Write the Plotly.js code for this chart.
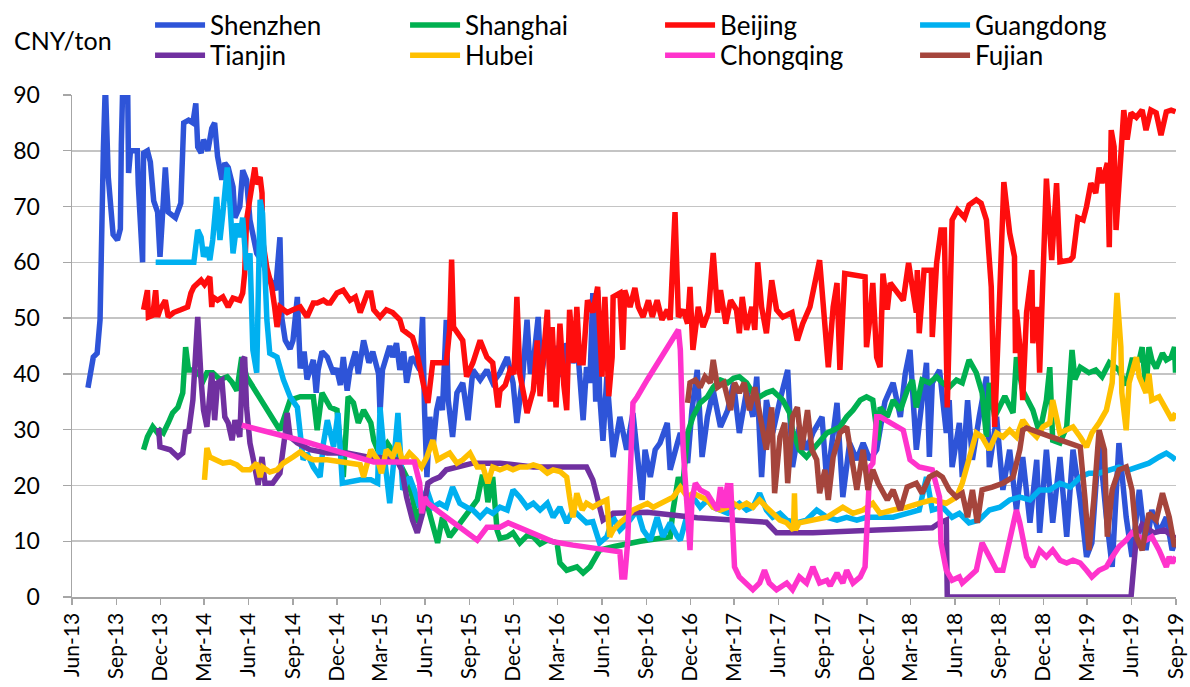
<!DOCTYPE html>
<html><head><meta charset="utf-8">
<script src="https://cdn.plot.ly/plotly-3.0.1.min.js"></script>
<style>html,body{margin:0;padding:0;background:#fff}#chart{width:1190px;height:687px}</style>
</head><body><div id="chart"></div>
<script>
const seriesNames = ['Shenzhen','Shanghai','Beijing','Guangdong','Tianjin','Hubei','Chongqing','Fujian'];
const seriesColors = ['#2e54d8','#00b050','#ff0d0d','#00b0f0','#7030a0','#ffc000','#ff33cc','#a5453c'];
const yTickValues = [0,10,20,30,40,50,60,70,80,90];
const unitLabel = 'CNY/ton';

const shenzhenDates = ['2013-07-04','2013-07-15','2013-07-23','2013-07-29','2013-08-05','2013-08-09','2013-08-15','2013-08-19','2013-08-25','2013-09-03','2013-09-09','2013-09-11','2013-09-14','2013-09-24','2013-09-26','2013-09-30','2013-10-14','2013-10-16','2013-10-25','2013-10-27','2013-11-04','2013-11-10','2013-11-17','2013-11-25','2013-11-30','2013-12-11','2013-12-17','2014-01-01','2014-01-12','2014-01-18','2014-01-28','2014-02-06','2014-02-12','2014-02-16','2014-02-23','2014-02-28','2014-03-09','2014-03-17','2014-03-23','2014-03-29','2014-04-07','2014-04-13','2014-04-20','2014-04-30','2014-05-04','2014-05-14','2014-05-20','2014-05-28','2014-06-04','2014-06-18','2014-06-30','2014-07-09','2014-07-21','2014-07-27','2014-08-05','2014-08-09','2014-08-16','2014-08-26','2014-09-01','2014-09-10','2014-09-16','2014-09-24','2014-09-30','2014-10-13','2014-10-19','2014-10-23','2014-10-31','2014-11-11','2014-11-24','2014-11-30','2014-12-08','2014-12-14','2014-12-22','2014-12-28','2015-01-08','2015-01-14','2015-01-25','2015-02-05','2015-02-13','2015-02-25','2015-02-28','2015-03-05','2015-03-20','2015-03-26','2015-04-03','2015-04-10','2015-04-18','2015-04-24','2015-05-04','2015-05-10','2015-05-21','2015-05-27','2015-05-31','2015-06-05','2015-06-11','2015-06-17','2015-06-25','2015-07-01','2015-07-07','2015-07-15','2015-07-19','2015-07-28','2015-08-06','2015-08-18','2015-08-29','2015-09-08','2015-09-23','2015-10-07','2015-10-19','2015-11-03','2015-11-18','2015-11-30','2015-12-08','2015-12-20','2015-12-29','2016-01-05','2016-01-11','2016-01-21','2016-01-27','2016-02-11','2016-02-21','2016-03-01','2016-03-12','2016-03-20','2016-04-02','2016-04-12','2016-04-23','2016-04-30','2016-05-07','2016-05-13','2016-05-19','2016-05-23','2016-05-27','2016-06-03','2016-06-11','2016-06-24','2016-07-08','2016-07-22','2016-08-04','2016-08-15','2016-08-23','2016-08-29','2016-09-09','2016-09-19','2016-09-29','2016-10-14','2016-10-20','2016-11-04','2016-11-10','2016-11-25','2016-12-04','2016-12-15','2016-12-25','2017-01-05','2017-01-17','2017-02-01','2017-02-16','2017-02-28','2017-03-12','2017-03-27','2017-04-09','2017-04-17','2017-04-27','2017-05-07','2017-05-20','2017-06-04','2017-06-20','2017-06-30','2017-07-14','2017-07-29','2017-08-11','2017-08-30','2017-09-09','2017-09-30','2017-10-12','2017-10-26','2017-11-10','2017-11-23','2017-12-07','2017-12-21','2018-01-07','2018-01-24','2018-02-08','2018-02-18','2018-02-28','2018-03-13','2018-03-25','2018-04-03','2018-04-09','2018-04-15','2018-04-30','2018-05-14','2018-05-20','2018-05-26','2018-06-10','2018-06-16','2018-06-27','2018-07-07','2018-07-21','2018-08-05','2018-08-11','2018-08-26','2018-09-08','2018-09-22','2018-10-06','2018-10-19','2018-11-03','2018-11-17','2018-11-23','2018-12-07','2018-12-20','2019-01-04','2019-01-18','2019-01-31','2019-02-15','2019-02-28','2019-03-11','2019-03-26','2019-04-10','2019-04-22','2019-05-06','2019-05-21','2019-06-02','2019-06-17','2019-07-01','2019-07-13','2019-07-28','2019-08-12','2019-08-24','2019-08-31'];
const shenzhenValues = [37.5,43,43.7,49.7,80.7,92,75.3,70,65,64,66,81,92,92,76,80,80,74,60,79.6,80,78,71,69,61,77,69,68,70.6,85,85.5,85,88.5,80.7,79.6,82,80,84,85,79,74.8,77.8,77,73.5,68,70,76.5,74.8,67.6,61.6,60,58,55.6,55,64.5,50,46,44.5,46,53.8,41,44,39,42.5,36.6,40.7,44,43,40,41,38,43,37,40.7,44,40,46,42,44,40,33,40.7,45,43,45.5,40.7,44,38.4,43,42.5,40.7,50.2,33.5,21.5,32.3,26.4,33.5,35.9,33.5,49.7,35.3,28.7,36.6,38.4,31.7,40.7,38.9,40.7,38.4,40.2,43,38.4,31.2,39.5,49.7,40,42,50.2,39.5,47.3,41.2,45,39.5,45.5,42,44,31.7,41.2,38.4,54.5,35,55,36.6,28,39.5,25.1,32.3,26.4,33,24.6,17.4,26.4,21.5,26.4,27.6,31.2,22.8,27.6,29.4,24,33.5,40.7,25.1,32.3,37,30.5,33.5,38.4,29.4,37,32.3,39.5,21.5,35.3,29.4,35.3,40.7,23.3,30.5,26.4,29.4,32.3,20.4,34.8,17.9,27.6,24.6,27.6,24.6,26.4,35,38.4,32.3,40,44.3,26.4,35.3,42,25.1,38.4,40.7,29.4,35.3,23.3,31.2,21.5,35.3,24.6,32.3,39.5,23.3,32.3,19.2,26.4,15.6,25.1,13.3,24.6,11.5,26.4,13.3,25.1,10.8,26.4,17.4,7.2,9.7,28.1,14.3,5.4,27.6,14.3,7.2,19.2,8.4,15.6,11.5,14.3,8.4,10];

const shanghaiDates = ['2013-10-27','2013-11-04','2013-11-15','2013-11-25','2013-11-30','2013-12-07','2013-12-17','2013-12-26','2014-01-06','2014-01-16','2014-01-22','2014-01-28','2014-02-08','2014-02-16','2014-02-28','2014-03-07','2014-03-19','2014-04-03','2014-04-18','2014-04-28','2014-05-08','2014-05-18','2014-05-28','2014-08-05','2014-08-26','2014-09-16','2014-10-13','2014-10-21','2014-10-31','2014-11-17','2014-12-01','2014-12-14','2014-12-24','2015-01-04','2015-01-14','2015-01-25','2015-02-09','2015-02-15','2015-02-23','2015-03-05','2015-03-15','2015-04-03','2015-04-24','2015-05-06','2015-05-16','2015-05-27','2015-06-07','2015-06-17','2015-06-27','2015-07-07','2015-07-22','2015-08-06','2015-08-18','2015-09-02','2015-09-17','2015-09-27','2015-10-03','2015-10-09','2015-10-19','2015-10-28','2015-11-03','2015-11-18','2015-11-30','2015-12-14','2015-12-29','2016-01-11','2016-01-25','2016-02-09','2016-02-29','2016-03-06','2016-03-20','2016-04-10','2016-04-23','2016-05-07','2016-05-21','2016-05-27','2016-06-24','2016-08-19','2016-10-20','2016-10-26','2016-11-06','2016-11-14','2016-11-25','2016-12-06','2016-12-21','2017-01-05','2017-01-17','2017-02-01','2017-02-16','2017-02-28','2017-03-12','2017-03-27','2017-04-09','2017-04-23','2017-05-07','2017-05-20','2017-06-10','2017-06-24','2017-06-30','2017-07-14','2017-07-29','2017-08-11','2017-08-25','2017-09-09','2017-09-22','2017-10-06','2017-10-20','2017-11-02','2017-11-17','2017-11-30','2017-12-13','2017-12-24','2017-12-28','2018-01-12','2018-01-24','2018-02-08','2018-02-22','2018-03-05','2018-03-13','2018-03-25','2018-04-09','2018-04-24','2018-05-06','2018-05-20','2018-06-04','2018-06-16','2018-06-30','2018-07-15','2018-07-27','2018-08-05','2018-08-11','2018-08-22','2018-09-12','2018-09-29','2018-10-06','2018-10-19','2018-11-09','2018-11-23','2018-12-07','2018-12-14','2018-12-20','2019-01-04','2019-01-18','2019-01-29','2019-02-04','2019-02-15','2019-03-05','2019-03-19','2019-04-01','2019-04-16','2019-05-06','2019-05-21','2019-06-02','2019-06-17','2019-06-23','2019-07-01','2019-07-07','2019-07-13','2019-07-22','2019-08-04','2019-08-12','2019-08-22','2019-08-29','2019-08-31'];
const shanghaiValues = [26.4,28.7,30.5,29.4,29.9,29.4,31.2,33,34,36.6,44.8,40.7,40.7,40.2,38.9,40.2,40.2,39,39.5,38.5,37,43,39.5,29.9,35.3,35.9,35.9,29.9,36.6,34,33.5,21.5,35.9,34.8,31.2,33.5,31.2,28.1,26.4,26.4,27.6,25.1,21.5,17.9,13.3,17.4,16.1,12.5,9.7,14.3,10.8,12.5,13.8,15.6,17.4,21.5,21.5,17,21.5,12,10.5,10.8,11.5,9.7,11,10.8,9.5,10.2,9.7,6.1,4.8,5.4,4.3,5.4,7.2,8.4,9,10,10.8,15.6,21.5,19,29.4,32.3,34.8,35.9,37.6,38.9,38.4,39.2,39.5,38.4,36.6,35.9,36.6,37,35.3,33,29.9,26.4,25.1,26.4,27.6,29.4,29.9,30.5,32.3,33.5,35.3,35.9,35.3,28.1,34,32.3,35.3,33.5,37,38.9,34,38.9,38.4,39.5,38.4,37.6,38.9,38.4,42.5,40.2,36.6,28.7,38.4,32.3,36,33,43,37,33.5,29.4,35.3,41.2,28.1,27.6,30.5,44.3,39,41.2,40.2,40.7,39.5,42,40.7,38,42.5,42.5,44.8,37,44.8,42.5,41,43.7,42.5,43,44.8,40.2];

const beijingDates = ['2013-10-27','2013-11-04','2013-11-06','2013-11-15','2013-11-21','2013-11-25','2013-11-30','2013-12-11','2013-12-17','2013-12-28','2014-01-12','2014-01-26','2014-02-02','2014-02-08','2014-02-23','2014-03-02','2014-03-13','2014-03-17','2014-03-19','2014-03-29','2014-04-09','2014-04-20','2014-04-30','2014-05-14','2014-05-20','2014-05-24','2014-05-28','2014-06-04','2014-06-08','2014-06-14','2014-06-18','2014-06-25','2014-06-29','2014-06-30','2014-07-09','2014-07-19','2014-07-25','2014-07-30','2014-08-05','2014-08-20','2014-09-01','2014-09-16','2014-09-30','2014-10-13','2014-10-21','2014-11-03','2014-11-11','2014-11-17','2014-12-01','2014-12-14','2014-12-28','2015-01-08','2015-01-18','2015-02-02','2015-02-09','2015-02-15','2015-02-28','2015-03-13','2015-03-26','2015-04-10','2015-04-16','2015-04-26','2015-05-06','2015-05-14','2015-05-21','2015-05-29','2015-06-07','2015-06-17','2015-07-01','2015-07-15','2015-07-22','2015-07-26','2015-07-30','2015-08-12','2015-08-18','2015-08-26','2015-09-08','2015-09-23','2015-10-07','2015-10-19','2015-10-30','2015-11-03','2015-11-14','2015-11-24','2015-12-02','2015-12-08','2015-12-14','2015-12-23','2015-12-29','2016-01-11','2016-01-19','2016-01-25','2016-02-09','2016-02-15','2016-02-19','2016-02-27','2016-03-06','2016-03-14','2016-03-20','2016-03-26','2016-04-04','2016-04-10','2016-04-16','2016-04-23','2016-05-02','2016-05-13','2016-05-23','2016-06-01','2016-06-07','2016-06-15','2016-06-22','2016-06-24','2016-07-08','2016-07-14','2016-07-18','2016-07-29','2016-08-08','2016-08-15','2016-08-25','2016-09-05','2016-09-13','2016-09-23','2016-10-03','2016-10-14','2016-10-20','2016-10-30','2016-11-06','2016-11-16','2016-11-25','2016-11-30','2016-12-06','2016-12-17','2016-12-27','2017-01-07','2017-01-17','2017-01-26','2017-02-01','2017-02-12','2017-02-22','2017-03-06','2017-03-12','2017-03-18','2017-03-27','2017-04-07','2017-04-13','2017-04-19','2017-04-27','2017-05-07','2017-05-18','2017-05-28','2017-06-10','2017-06-29','2017-07-10','2017-07-21','2017-08-05','2017-08-25','2017-09-12','2017-09-22','2017-09-30','2017-10-06','2017-10-16','2017-11-27','2017-11-30','2017-12-07','2017-12-13','2017-12-21','2017-12-28','2018-01-03','2018-01-12','2018-01-18','2018-02-14','2018-02-25','2018-03-05','2018-03-13','2018-03-15','2018-03-19','2018-03-29','2018-04-13','2018-04-15','2018-04-24','2018-05-03','2018-05-10','2018-05-16','2018-05-26','2018-06-06','2018-06-21','2018-06-30','2018-07-15','2018-07-25','2018-08-05','2018-08-15','2018-08-22','2018-09-02','2018-09-10','2018-09-22','2018-10-02','2018-10-04','2018-10-06','2018-10-13','2018-10-19','2018-10-27','2018-11-07','2018-11-09','2018-11-19','2018-11-23','2018-11-30','2018-12-07','2018-12-18','2018-12-28','2019-01-04','2019-01-25','2019-01-31','2019-02-10','2019-02-21','2019-02-28','2019-03-09','2019-03-19','2019-03-26','2019-04-01','2019-04-12','2019-04-16','2019-04-20','2019-04-26','2019-04-30','2019-05-10','2019-05-16','2019-05-23','2019-05-31','2019-06-11','2019-06-23','2019-07-01','2019-07-11','2019-07-22','2019-08-01','2019-08-12','2019-08-22','2019-08-31'];
const beijingValues = [51.5,55,50.2,50.5,55,50.2,51.5,53.2,50.2,51,51.5,52,54.5,55.6,56.8,56,57.4,52,53.8,53.2,53.8,52,53.6,53.2,54.5,58,67.6,72,74.8,77,74,75.3,72.4,64,59,55.6,52,48.4,52,51,51.5,52,50.2,52.7,52.7,53.2,52.7,52.7,54.5,55,53.2,53.8,51,54.5,54.5,51.5,50.2,51.5,51,49.7,47.9,47.3,46.6,44.3,40.7,38,34.8,42,42,42,48,60.5,48.4,46.6,46,39.5,42,46,43,42,34,37,38,40.7,40,53.8,40,36,33,37,46,36,51.5,35,48.4,34,49,38,33.5,51.5,42,52,42,42,53.2,51,55.6,39.5,53.8,36,43,53.8,54.5,44.3,55,52,55.4,52,50.2,53.2,50.2,53.2,49.7,51.5,49.7,69,50.2,51.5,49,55.6,44.3,52,48.4,51,61.7,51,55,49,53.2,51.5,47.3,53.8,47.9,52,47.9,60,52,47.3,56.8,51.5,50.2,51,46,49,52,60.4,41.2,52,56.3,40.7,58,57.4,44.8,50,56.3,43,41.2,58,51.5,56.3,53.2,59.9,55.6,51,58.6,47.3,58.6,58.6,46.6,59.9,65.8,65.8,34,67.6,69.4,68,70.3,71.2,70.6,67.6,55.6,30.5,55.6,74.4,65.3,61,43.7,51.5,45,35.3,51,58.6,45.5,52,40.2,58.6,75,60.4,74.2,60.1,60.4,61,68,67.6,70,74.2,72.4,77,74.2,77.8,62.7,83.7,80.7,65.8,77.8,87.3,82,86.8,86,87.3,83.7,87.3,86.8,82.8,87,87.3,87];

const guangdongDates = ['2013-11-21','2014-02-08','2014-02-16','2014-02-23','2014-02-28','2014-03-07','2014-03-13','2014-03-19','2014-03-27','2014-04-03','2014-04-09','2014-04-18','2014-04-24','2014-04-30','2014-05-08','2014-05-14','2014-05-20','2014-05-28','2014-06-04','2014-06-10','2014-06-18','2014-06-25','2014-06-30','2014-07-09','2014-07-15','2014-07-30','2014-08-12','2014-08-26','2014-09-10','2014-09-16','2014-09-22','2014-09-30','2014-10-13','2014-10-27','2014-11-03','2014-11-11','2014-11-24','2014-12-03','2014-12-12','2015-01-18','2015-02-09','2015-02-23','2015-02-28','2015-03-09','2015-03-20','2015-03-30','2015-04-06','2015-04-16','2015-04-30','2015-05-10','2015-05-21','2015-06-05','2015-06-17','2015-07-01','2015-07-15','2015-07-28','2015-08-12','2015-08-26','2015-09-08','2015-09-23','2015-10-07','2015-10-19','2015-11-03','2015-11-18','2015-11-30','2015-12-14','2015-12-29','2016-01-11','2016-01-25','2016-02-09','2016-02-21','2016-03-06','2016-03-20','2016-04-02','2016-04-16','2016-04-30','2016-05-13','2016-05-27','2016-06-11','2016-06-24','2016-07-08','2016-07-29','2016-08-13','2016-08-25','2016-09-09','2016-09-23','2016-10-05','2016-10-20','2016-11-04','2016-11-10','2016-11-25','2016-12-06','2016-12-21','2017-01-05','2017-01-17','2017-02-01','2017-02-16','2017-02-28','2017-03-12','2017-03-27','2017-04-09','2017-04-23','2017-05-07','2017-05-20','2017-06-04','2017-06-18','2017-07-08','2017-07-29','2017-08-19','2017-09-09','2017-09-30','2017-10-20','2017-11-10','2017-11-30','2017-12-21','2018-01-24','2018-02-22','2018-03-19','2018-04-03','2018-04-15','2018-05-06','2018-05-26','2018-06-10','2018-06-30','2018-07-21','2018-08-11','2018-09-02','2018-09-22','2018-10-13','2018-11-03','2018-11-23','2018-12-14','2019-01-04','2019-01-25','2019-02-15','2019-03-05','2019-03-26','2019-04-16','2019-05-06','2019-05-27','2019-06-17','2019-07-07','2019-07-28','2019-08-12','2019-08-24','2019-08-31'];
const guangdongValues = [60,60,65.8,64.5,61,62.7,60.4,64,71.7,64,68.8,77,70,61.6,67,64.5,68,58.6,61.6,44.3,40.2,71.2,68.8,49.7,43.7,43,39,35.9,34,29.9,24.6,25.8,23.3,21.5,27.6,31.7,26.9,33,20.4,21,21,20.4,34,25.1,16.8,25.8,33,19.2,21.5,19.2,16.1,19.2,16.1,16.8,16.1,19.7,16.8,16.1,15.6,14.3,15.6,15,16.1,15.6,19.2,17.9,16.1,16.8,15.6,16.8,14.3,16.1,13.3,15.6,14.3,13.3,13.5,9.7,10.8,14.3,12,13.8,15.6,12,10.2,14.3,10.8,13.3,10.8,10.2,15,17.9,16.1,17.4,16.1,15.6,15,16.1,16.8,15.6,16.1,18.6,15.6,14.3,15,13.8,13.3,13.8,15.6,14.3,13.8,14.3,13.8,14.3,14.3,14.3,15,15.6,21.5,15.6,16.1,14.3,15,13.3,13.8,15.6,16.1,17.4,17.9,17.4,19.2,19.2,20.4,19.7,21.5,22.2,22.2,22.8,23.3,22.8,23.3,24,25.1,25.8,25.1,24.6];

const tianjinDates = ['2013-11-27','2013-11-30','2013-12-21','2014-01-06','2014-01-16','2014-01-22','2014-01-28','2014-02-06','2014-02-12','2014-02-16','2014-02-23','2014-02-28','2014-03-07','2014-03-17','2014-03-23','2014-03-29','2014-04-07','2014-04-13','2014-04-20','2014-04-28','2014-05-04','2014-05-14','2014-05-20','2014-05-24','2014-05-28','2014-06-04','2014-06-10','2014-06-18','2014-06-21','2014-06-29','2014-07-05','2014-07-21','2014-08-05','2014-08-16','2014-08-20','2014-08-26','2014-09-10','2014-10-06','2014-11-11','2014-12-22','2015-02-02','2015-02-28','2015-04-03','2015-04-14','2015-04-24','2015-05-06','2015-05-16','2015-05-27','2015-06-07','2015-06-17','2015-07-01','2015-07-15','2015-08-12','2015-09-08','2015-11-03','2016-01-11','2016-03-20','2016-04-30','2016-05-13','2016-05-23','2016-06-03','2016-06-24','2016-09-03','2016-12-15','2017-05-07','2017-05-28','2017-08-11','2017-12-21','2018-04-15','2018-04-30','2018-05-14','2018-05-16','2019-05-31','2019-06-11','2019-06-23','2019-07-17','2019-08-08','2019-08-31'];
const tianjinValues = [30.3,26.9,26.4,25.1,25.8,29.9,29.4,35.3,44.3,50.2,38.9,33.5,30.5,40.2,31.7,38.4,38.9,32.3,31.2,28.1,31.7,28.7,42.5,43,34,27.6,25.1,22.2,20.1,25.1,20.4,20.4,22.2,29.4,33,28.7,27.6,26.4,25.8,25.8,25.1,25,24.6,22.8,17.9,13.8,11.5,15,20.4,21,21.5,22.8,23.3,24,24,23.3,23.3,23.3,21,17.4,13.8,15,15.2,14.2,13.4,11.5,11.5,12,12.4,13.3,13.8,0,0,10.8,13,11.5,12,10.5];

const hubeiDates = ['2014-03-02','2014-03-07','2014-03-13','2014-03-27','2014-04-09','2014-04-24','2014-05-08','2014-05-20','2014-06-04','2014-06-18','2014-06-25','2014-06-30','2014-07-15','2014-07-30','2014-08-12','2014-09-01','2014-09-16','2014-09-30','2014-10-13','2014-11-11','2014-12-14','2015-01-18','2015-01-25','2015-02-09','2015-02-23','2015-03-03','2015-03-13','2015-03-26','2015-04-06','2015-04-16','2015-04-30','2015-05-14','2015-05-25','2015-06-05','2015-06-17','2015-06-27','2015-07-07','2015-07-22','2015-08-06','2015-08-18','2015-09-02','2015-09-17','2015-09-29','2015-10-09','2015-10-19','2015-11-03','2015-11-18','2015-11-30','2015-12-14','2015-12-29','2016-01-11','2016-01-25','2016-02-09','2016-02-21','2016-03-06','2016-03-20','2016-03-26','2016-04-02','2016-04-10','2016-04-21','2016-04-30','2016-05-13','2016-05-27','2016-06-11','2016-06-17','2016-06-24','2016-07-08','2016-07-22','2016-08-04','2016-08-19','2016-09-03','2016-09-15','2016-09-29','2016-10-14','2016-10-26','2016-11-10','2016-11-25','2016-12-06','2016-12-21','2017-01-05','2017-01-17','2017-02-01','2017-02-16','2017-02-28','2017-03-12','2017-03-27','2017-04-09','2017-04-23','2017-05-07','2017-05-20','2017-06-04','2017-06-18','2017-07-02','2017-07-04','2017-07-06','2017-07-14','2017-08-11','2017-09-09','2017-09-22','2017-10-12','2017-11-02','2017-11-23','2017-12-13','2017-12-28','2018-01-24','2018-02-22','2018-03-19','2018-04-15','2018-05-14','2018-06-04','2018-06-16','2018-06-30','2018-07-15','2018-07-27','2018-08-11','2018-08-26','2018-09-08','2018-09-22','2018-10-06','2018-10-19','2018-11-03','2018-11-17','2018-11-30','2018-12-14','2018-12-20','2019-01-04','2019-01-18','2019-01-31','2019-02-15','2019-02-28','2019-03-11','2019-03-26','2019-04-10','2019-04-22','2019-05-02','2019-05-10','2019-05-12','2019-05-21','2019-05-27','2019-06-11','2019-06-17','2019-07-01','2019-07-07','2019-07-13','2019-07-28','2019-08-12','2019-08-24','2019-08-31'];
const hubeiValues = [21,26.7,25.1,24.6,24,24.2,23.7,22.8,22.8,24,21.5,23.3,22.4,22.8,24,25.1,26,25.1,24.6,24.6,24.2,23.7,21.5,26.4,24.6,22.2,26.4,25.1,27.6,24,25.8,24.6,23.3,25.1,28.1,24.6,25.1,25.8,24,24.6,25.8,23.3,23.3,20.4,23.3,22.8,23.3,22.8,23.3,23.3,23.7,23.3,22.2,22.8,22.5,21.5,17.9,14.3,18.6,15.6,16.8,16.1,16.8,17.4,10.8,12,13.3,14.3,15.6,16.1,16.8,16.1,16.8,17.4,17.9,19.7,17.9,18.6,17.9,17.4,16.1,15.6,16.1,16.8,16.1,16.8,16.1,17.4,16.1,15,13.8,13.3,12,18.6,12,13.3,13.8,14.3,15,16.1,15,15.6,16.8,15,15.6,16.1,16.8,17.4,16.8,17.9,20.4,24.6,29.4,28.7,26.4,29.4,28.7,29.9,28.7,31.7,29.9,28.7,30.5,31.2,35.3,29.4,29.9,30.5,28.7,26.9,29.4,31.2,33.5,38.4,54.5,44.8,36.6,29.9,38.4,43,39.5,36.6,40,35.3,35.9,33.5,31.7,33];

const chongqingDates = ['2014-05-18','2014-09-16','2015-02-15','2015-05-10','2015-05-21','2015-05-25','2015-05-31','2015-06-07','2015-06-25','2015-07-22','2015-08-18','2015-09-17','2015-10-07','2015-11-03','2015-11-20','2016-01-11','2016-02-21','2016-04-02','2016-05-13','2016-05-27','2016-07-08','2016-07-12','2016-07-18','2016-07-24','2016-08-04','2016-08-13','2016-09-03','2016-11-06','2016-11-10','2016-11-16','2016-11-25','2016-11-30','2016-12-04','2016-12-11','2016-12-21','2017-01-05','2017-01-17','2017-01-26','2017-02-01','2017-02-08','2017-02-16','2017-02-18','2017-02-22','2017-02-26','2017-03-02','2017-03-12','2017-03-27','2017-04-09','2017-04-23','2017-05-03','2017-05-13','2017-05-28','2017-06-18','2017-06-30','2017-07-14','2017-07-29','2017-08-11','2017-08-25','2017-09-09','2017-09-16','2017-09-30','2017-10-12','2017-10-20','2017-11-02','2017-11-17','2017-11-27','2017-12-07','2017-12-13','2017-12-21','2017-12-28','2018-02-14','2018-02-28','2018-03-19','2018-04-15','2018-04-30','2018-05-03','2018-05-14','2018-05-26','2018-06-10','2018-06-16','2018-06-30','2018-07-15','2018-07-27','2018-08-11','2018-08-26','2018-09-08','2018-09-22','2018-10-06','2018-10-13','2018-10-27','2018-11-09','2018-11-23','2018-12-07','2018-12-20','2019-01-04','2019-01-18','2019-01-31','2019-02-15','2019-02-28','2019-03-11','2019-03-26','2019-04-10','2019-04-22','2019-05-06','2019-05-21','2019-06-02','2019-06-17','2019-07-01','2019-07-13','2019-07-28','2019-08-12','2019-08-18','2019-08-24','2019-08-31'];
const chongqingValues = [30.8,28.1,24.2,24.2,20.4,15,17.9,16.8,15.6,13.8,12,10.2,12.5,12.5,13.3,11.5,9.9,9.3,8.8,8.4,8.1,3.6,3.6,9.7,34.8,35.9,39,47.9,44.3,26.4,13.3,8.4,17.4,20.4,19.2,18.5,16.8,15.6,19.7,16,20.4,16,20.4,9.7,5.4,3.6,2.5,1.3,2.5,4.8,2.5,1.3,2.5,1.3,3.6,2.5,5.4,2.5,3,2,4.3,2.5,4.8,2.5,3.6,5.4,23.3,24,32.3,32.3,29.9,24.6,23.3,22.8,17.9,9.7,4.8,3,3.6,2.5,3.6,4.8,9.7,7.2,4.8,4.8,9.7,15.6,13.3,7.2,5.4,8.4,7.2,8.4,6.6,6.1,6.6,6.1,4.8,3.6,4.8,5.4,7.2,9,10.2,11.5,10.8,10.2,10.8,8.4,5.4,7.2,6.1,7.2];

const fujianDates = ['2016-11-25','2016-11-30','2016-12-11','2016-12-21','2016-12-31','2017-01-11','2017-01-17','2017-01-26','2017-02-08','2017-02-22','2017-03-02','2017-03-12','2017-03-22','2017-04-02','2017-04-13','2017-04-23','2017-05-07','2017-05-18','2017-05-24','2017-06-04','2017-06-14','2017-06-20','2017-06-30','2017-07-10','2017-07-19','2017-07-31','2017-08-09','2017-08-19','2017-08-25','2017-09-05','2017-09-12','2017-09-22','2017-10-06','2017-10-20','2017-10-31','2017-11-10','2017-11-23','2017-12-03','2017-12-13','2017-12-24','2018-01-12','2018-01-24','2018-02-08','2018-02-22','2018-03-13','2018-03-25','2018-04-09','2018-04-24','2018-05-06','2018-05-20','2018-06-04','2018-06-16','2018-06-27','2018-07-07','2018-07-17','2018-07-27','2018-08-17','2018-09-08','2018-09-29','2018-10-13','2018-10-19','2018-10-27','2018-12-14','2019-02-15','2019-02-25','2019-03-05','2019-03-15','2019-03-26','2019-04-06','2019-04-12','2019-04-22','2019-05-06','2019-05-21','2019-06-02','2019-06-11','2019-06-23','2019-07-07','2019-07-22','2019-08-04','2019-08-18','2019-08-29','2019-08-31'];
const fujianValues = [34.8,38.4,38.9,37.6,39.5,38.4,42.5,37.6,38.4,33.5,38.4,36.6,38.4,33.5,37.6,32.3,26.4,34,18.6,28.7,31.2,20.4,32.3,34,26.4,33.5,26.4,24.6,18.6,22.8,17.4,25.1,29.4,30.5,24.6,19.2,26.4,19.2,22.8,20.4,17.4,19.2,15.6,19.7,20.4,18.6,21.5,22.2,21.5,19.2,17.9,18.6,14.3,19.2,13.3,19.2,19.7,20.4,21.5,26.4,29.9,30.3,28.8,26.9,17.4,8.4,17.4,29.9,26.4,10.8,19.2,22.8,23.3,19.2,10.8,8.4,15,13.8,18.6,14.3,9,9.7];

const seriesDates = [shenzhenDates, shanghaiDates, beijingDates, guangdongDates, tianjinDates, hubeiDates, chongqingDates, fujianDates];
const seriesValues = [shenzhenValues, shanghaiValues, beijingValues, guangdongValues, tianjinValues, hubeiValues, chongqingValues, fujianValues];

const FONT = 'Lato, "Open Sans", "Noto Sans", sans-serif';

const traces = seriesNames.map((name, i) => ({
  type: 'scatter',
  mode: 'lines',
  name: name,
  x: seriesDates[i],
  y: seriesValues[i],
  line: {color: seriesColors[i], width: 5.5, shape: 'linear'},
  legend: i < 4 ? 'legend' : 'legend2',
  hoverinfo: 'skip'
}));

const legendBase = {
  orientation: 'h', xref: 'paper', yref: 'paper', x: 0.0707, xanchor: 'left', yanchor: 'middle',
  entrywidth: 190, entrywidthmode: 'pixels', itemwidth: 50,
  font: {family: FONT, size: 26, color: '#000'}, bgcolor: 'rgba(0,0,0,0)', borderwidth: 0,
  traceorder: 'normal'
};

const layout = {
  width: 1190, height: 687,
  margin: {l: 72, r: 14, t: 95, b: 90, autoexpand: false},
  paper_bgcolor: '#fff', plot_bgcolor: '#fff',
  font: {family: FONT, size: 22, color: '#000'},
  showlegend: true,
  legend: Object.assign({}, legendBase, {y: 1.139}),
  legend2: Object.assign({}, legendBase, {y: 1.079}),
  xaxis: {
    type: 'date', range: ['2013-06-01', '2019-09-01'],
    tick0: '2013-06-01', dtick: 'M3', tickformat: '%b-%y', tickangle: -90,
    ticks: 'outside', ticklen: 6, tickwidth: 1.3, tickcolor: '#a6a6a6',
    showline: true, linecolor: '#a6a6a6', linewidth: 1.5,
    showgrid: false, zeroline: false,
    tickfont: {family: FONT, size: 21, color: '#000'}
  },
  yaxis: {
    range: [0, 90], tickvals: yTickValues,
    ticks: 'outside', ticklen: 8, tickwidth: 1.3, tickcolor: '#a6a6a6',
    ticklabelstandoff: 18,
    showline: true, linecolor: '#a6a6a6', linewidth: 1.5,
    showgrid: true, gridcolor: '#c4c4c4', gridwidth: 1.5, zeroline: false,
    tickfont: {family: FONT, size: 23, color: '#000'}
  },
  annotations: [{
    text: unitLabel, xref: 'paper', yref: 'paper', x: -0.0543, y: 1.11,
    xanchor: 'left', yanchor: 'middle', showarrow: false,
    font: {family: FONT, size: 25, color: '#000'}
  }]
};

Plotly.newPlot('chart', traces, layout, {staticPlot: true, displayModeBar: false});
</script>
</body></html>
